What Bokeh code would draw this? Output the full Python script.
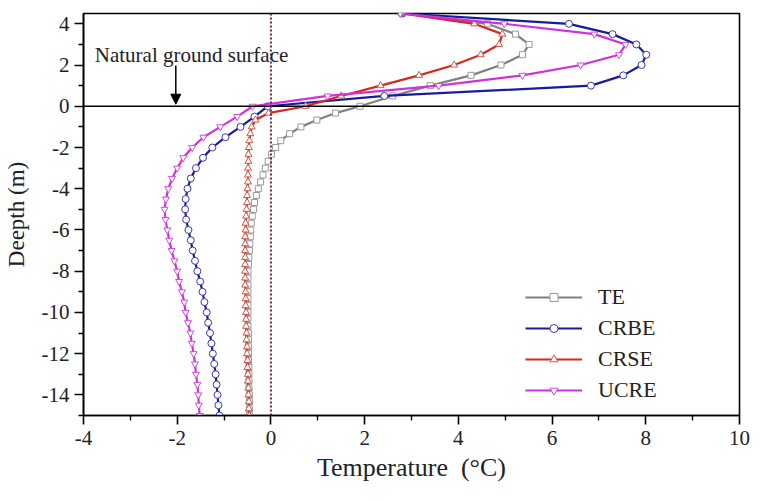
from bokeh.plotting import figure
from bokeh.models import Span, Arrow, NormalHead, FixedTicker, Legend, LegendItem, Label
from bokeh.embed import file_html
from bokeh.resources import INLINE

# depth grids (m)
depth_half = [4.5, 4.0, 3.5, 3.0, 2.5, 2.0, 1.5, 1.0, 0.5, 0.0,
              -0.5, -1.0, -1.5, -2.0, -2.5, -3.0, -3.5, -4.0, -4.5, -5.0,
              -5.5, -6.0, -6.5, -7.0, -7.5, -8.0, -8.5, -9.0, -9.5, -10.0,
              -10.5, -11.0, -11.5, -12.0, -12.5, -13.0, -13.5, -14.0, -14.5, -15.0]
depth_third = [4.5, 4.0, 3.5, 3.0, 2.5, 2.0, 1.5, 1.0, 0.5, 0.0,
               -0.33, -0.67, -1.0, -1.33, -1.67, -2.0, -2.33, -2.67, -3.0,
               -3.33, -3.67, -4.0, -4.33, -4.67, -5.0, -5.33, -5.67, -6.0,
               -6.33, -6.67, -7.0, -7.33, -7.67, -8.0, -8.33, -8.67, -9.0,
               -9.33, -9.67, -10.0, -10.33, -10.67, -11.0, -11.33, -11.67, -12.0,
               -12.33, -12.67, -13.0, -13.33, -13.67, -14.0, -14.33, -14.67, -15.0]

# temperatures (°C)
te = [2.8, 4.62, 5.22, 5.51, 5.37, 4.91, 4.27, 3.40, 2.60, 1.90,
      1.38, 0.98, 0.64, 0.40, 0.21, 0.10, 0.01, -0.06, -0.12,
      -0.17, -0.22, -0.27, -0.31, -0.35, -0.37, -0.40, -0.42, -0.43,
      -0.44, -0.45, -0.46, -0.47, -0.48, -0.49, -0.49, -0.49, -0.49,
      -0.49, -0.49, -0.49, -0.49, -0.49, -0.48, -0.48, -0.48, -0.48,
      -0.48, -0.47, -0.47, -0.47, -0.47, -0.46, -0.46, -0.46, -0.46]
crbe = [2.8, 6.36, 7.29, 7.80, 8.01, 7.91, 7.52, 6.83, 2.42, -0.07,
        -0.35, -0.65, -0.97, -1.25, -1.45, -1.60, -1.71, -1.78, -1.82, -1.83,
        -1.81, -1.76, -1.71, -1.67, -1.62, -1.57, -1.51, -1.46, -1.42, -1.37,
        -1.34, -1.30, -1.27, -1.24, -1.21, -1.18, -1.16, -1.14, -1.12, -1.10]
crse = [2.8, 4.34, 4.94, 4.87, 4.48, 3.91, 3.16, 2.34, 1.50, 0.74,
        -0.05, -0.33, -0.41, -0.44, -0.46, -0.47, -0.48, -0.48, -0.49,
        -0.49, -0.49, -0.50, -0.51, -0.51, -0.52, -0.53, -0.54, -0.54,
        -0.55, -0.55, -0.55, -0.55, -0.55, -0.55, -0.55, -0.55, -0.54,
        -0.54, -0.54, -0.53, -0.53, -0.53, -0.52, -0.52, -0.51, -0.51,
        -0.50, -0.50, -0.49, -0.49, -0.48, -0.48, -0.47, -0.47, -0.46]
ucre = [2.76, 4.98, 6.90, 7.57, 7.43, 6.61, 5.37, 3.58, 1.21, -0.39,
        -0.72, -1.08, -1.44, -1.68, -1.87, -2.00, -2.11, -2.19, -2.24, -2.27,
        -2.25, -2.21, -2.17, -2.12, -2.06, -2.00, -1.96, -1.90, -1.85, -1.82,
        -1.77, -1.72, -1.69, -1.65, -1.62, -1.60, -1.57, -1.55, -1.54, -1.52]

x_ticks = [-4, -2, 0, 2, 4, 6, 8, 10]
x_minor = [-3, -1, 1, 3, 5, 7, 9]
y_ticks = [-14, -12, -10, -8, -6, -4, -2, 0, 2, 4]
y_minor = [-15, -13, -11, -9, -7, -5, -3, -1, 1, 3]

FONT = "Liberation Serif"

p = figure(frame_width=656, frame_height=402, x_range=(-4, 10), y_range=(-15, 4.5),
           output_backend="svg", toolbar_location=None,
           min_border_left=80, min_border_right=11, min_border_top=13, min_border_bottom=70)
p.grid.visible = False
p.outline_line_color = "black"
p.outline_line_width = 1.6
p.background_fill_color = "white"
p.border_fill_color = "white"

p.xaxis.ticker = FixedTicker(ticks=x_ticks, minor_ticks=x_minor)
p.yaxis.ticker = FixedTicker(ticks=y_ticks, minor_ticks=y_minor)
p.xaxis.major_label_overrides = {t: str(t) for t in x_ticks}
p.yaxis.major_label_overrides = {t: str(t) for t in y_ticks}
for ax in (p.xaxis[0], p.yaxis[0]):
    ax.axis_line_width = 1.6
    ax.major_tick_line_width = 1.6
    ax.minor_tick_line_width = 1.4
    ax.major_tick_out = 9
    ax.major_tick_in = 0
    ax.minor_tick_out = 5
    ax.minor_tick_in = 0
    ax.major_label_text_font = FONT
    ax.major_label_text_font_size = "21px"
    ax.major_label_text_color = "#222222"
    ax.axis_label_text_font = FONT
    ax.axis_label_text_font_style = "normal"
    ax.axis_label_text_color = "#222222"
p.xaxis[0].axis_label_text_font_size = "26px"
p.yaxis[0].axis_label_text_font_size = "23px"
p.xaxis.axis_label = "Temperature\u00a0 (°C)"
p.yaxis.axis_label = "Deepth (m)"
p.xaxis.major_label_standoff = 6
p.yaxis.major_label_standoff = 5
p.xaxis.axis_label_standoff = 5
p.yaxis.axis_label_standoff = 10

p.add_layout(Span(location=0, dimension="width", line_color="black", line_width=1.6))
p.add_layout(Span(location=0, dimension="height", line_color="#6a1f5a", line_width=2,
                  line_dash="2 2"))

series = [
    ("TE", te, depth_third, "#808080", "#9a9a9a", "square", 6),
    ("CRBE", crbe, depth_half, "#1a1aa0", "#3a3aa8", "circle", 7),
    ("CRSE", crse, depth_third, "#d42a1e", "#c85a4a", "triangle", 7),
    ("UCRE", ucre, depth_half, "#d22fdc", "#c84ed8", "inverted_triangle", 7),
]
items = []
for name, xs, ys, lc, mc, mk, sz in series:
    r1 = p.line(xs, ys, line_color=lc, line_width=2.2)
    r2 = p.scatter(xs, ys, marker=mk, size=sz, fill_color="white", line_color=mc, line_width=1)
    items.append(LegendItem(label=name, renderers=[r1, r2]))

legend = Legend(items=items, location=(437, 7), background_fill_alpha=0,
                border_line_alpha=0, label_text_font=FONT, label_text_font_size="22px",
                label_text_color="#222222", glyph_width=57, glyph_height=20, label_height=20,
                spacing=5, padding=5, label_standoff=16, margin=0)
p.add_layout(legend, "center")

p.add_layout(Label(x=-3.76, y=2.47, text="Natural ground surface", text_font=FONT,
                   text_font_size="21px", text_baseline="middle", text_color="#222222"))
p.add_layout(Arrow(end=NormalHead(size=10, fill_color="black", line_color="black"),
                   x_start=-2.03, y_start=1.98, x_end=-2.03, y_end=0.1,
                   line_color="black", line_width=1.5))

open("out.html", "w").write(file_html(p, INLINE))
